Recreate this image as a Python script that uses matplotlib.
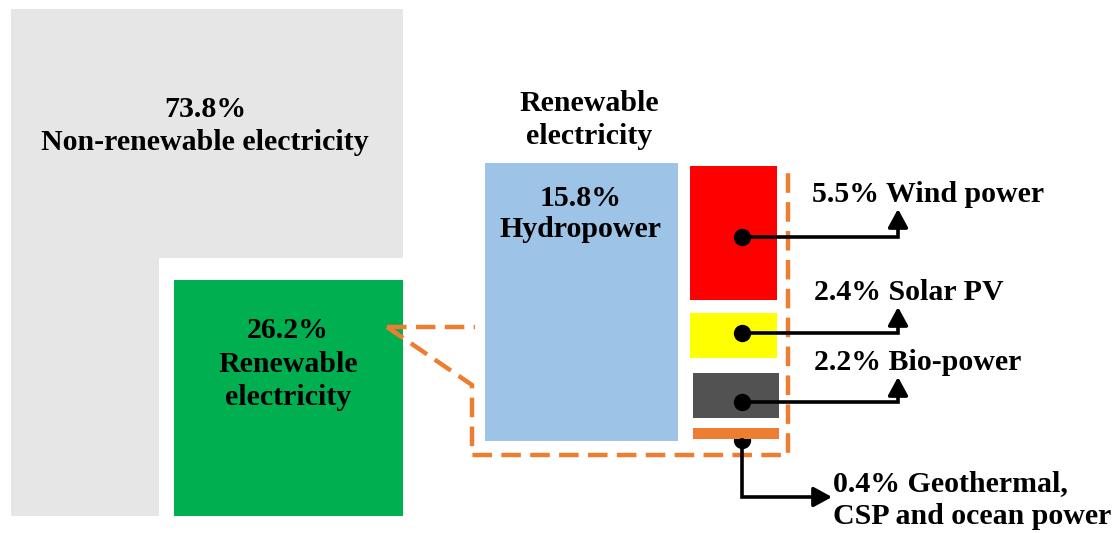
import matplotlib
matplotlib.use("Agg")
import matplotlib.pyplot as plt
from matplotlib.patches import Rectangle, Polygon

# ---- data ----
categories = ["Non-renewable electricity", "Renewable electricity", "Hydropower",
              "Wind power", "Solar PV", "Bio-power", "Geothermal,\nCSP and ocean power"]
shares = [73.8, 26.2, 15.8, 5.5, 2.4, 2.2, 0.4]
colors = ["#E6E6E6", "#00B050", "#9DC3E6", "#FF0000", "#FFFF00", "#525252", "#ED7D31"]

# ---- layout (pixel space of a 1115x533 canvas) ----
W, H = 1115, 533
FONT = ["Liberation Serif", "DejaVu Serif"]
FS = 21.5
LS = 1.3

fig = plt.figure(figsize=(W / 100, H / 100), dpi=100)
ax = fig.add_axes([0, 0, 1, 1])
ax.set_xlim(0, W)
ax.set_ylim(H, 0)
ax.axis("off")

def txt(x, y, s, ha="center", ls=LS):
    ax.text(x, y, s, ha=ha, va="center", fontsize=FS, fontweight="bold",
            family=FONT, color="black", linespacing=ls, zorder=10)

# Non-renewable L-shape
ax.add_patch(Polygon([(11, 9), (403, 9), (403, 258), (159, 258), (159, 516), (11, 516)],
                     closed=True, facecolor=colors[0], edgecolor="none", zorder=1))
txt(205, 126, f"{shares[0]}%\n{categories[0]}")

# Renewable box
ax.add_patch(Rectangle((174, 280), 229, 236, facecolor=colors[1], edgecolor="none", zorder=1))
txt(288, 364, f"{shares[1]}%\nRenewable\nelectricity")

# Title for breakdown
txt(589, 120, "Renewable\nelectricity")

# Hydropower
ax.add_patch(Rectangle((485, 163), 193, 278, facecolor=colors[2], edgecolor="none", zorder=1))
txt(581, 214, f"{shares[2]}%\n{categories[2]}", ls=1.22)

# Small boxes: (x, y, w, h)
small_boxes = [(690, 166, 87, 134), (690, 313, 87, 45), (693, 373, 86, 45), (693, 428, 86, 11)]
for (x, y, w, h), c in zip(small_boxes, colors[3:]):
    ax.add_patch(Rectangle((x, y), w, h, facecolor=c, edgecolor="none", zorder=3))

# Dashed orange outline
oc = colors[6]
dash = dict(color=oc, lw=3.2, linestyle=(0, (4.4, 2.1)), zorder=2, solid_capstyle="butt")
ax.plot([387, 475], [327, 327], **dash)
ax.plot([387, 472, 472, 788, 788], [327, 385, 455, 455, 166], **dash)

# Connectors with arrows
dot_x = 742
lw = 2.6
head = "-|>,head_length=0.55,head_width=0.3"
for (dy, tip_y) in [(237, 209), (333, 307), (402, 377)]:
    ax.plot([dot_x], [dy], "o", color="black", ms=11.5, zorder=5)
    ax.plot([dot_x, 898, 898], [dy, dy, tip_y + 10], color="black", lw=lw, zorder=5,
            solid_joinstyle="miter")
    ax.annotate("", xy=(898, tip_y), xytext=(898, tip_y + 14),
                arrowprops=dict(arrowstyle=head, color="black", lw=lw,
                                shrinkA=0, shrinkB=0, mutation_scale=20),
                zorder=6)

# Geothermal connector (dot partly behind bar)
ax.plot([dot_x], [440], "o", color="black", ms=11.5, zorder=2.5)
ax.plot([dot_x, dot_x, 820], [440, 497, 497], color="black", lw=lw, zorder=5,
        solid_joinstyle="miter")
ax.annotate("", xy=(832, 497), xytext=(818, 497),
            arrowprops=dict(arrowstyle=head, color="black", lw=lw,
                            shrinkA=0, shrinkB=0, mutation_scale=20),
            zorder=6)

# Labels
txt(812, 195, f"{shares[3]}% {categories[3]}", ha="left")
txt(814, 293, f"{shares[4]}% {categories[4]}", ha="left")
txt(814, 362, f"{shares[5]}% {categories[5]}", ha="left")
txt(833, 500, f"{shares[6]}% {categories[6]}", ha="left")

fig.savefig("out.png", dpi=100, facecolor="white")
